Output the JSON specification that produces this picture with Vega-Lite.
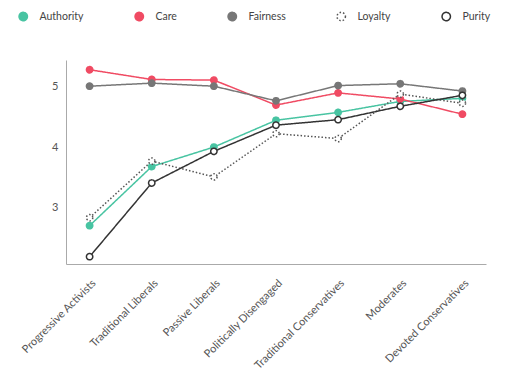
{
  "$schema": "https://vega.github.io/schema/vega-lite/v6.json",
  "width": 420,
  "height": 204,
  "autosize": {"type": "none"},
  "padding": {"left": 66, "top": 60, "right": 26, "bottom": 104},
  "config": {
    "view": {"stroke": null},
    "font": "Lato",
    "axis": {"labelFont": "Lato", "labelColor": "#555", "labelFontSize": 11, "domainColor": "#aaaaaa", "domainWidth": 1, "ticks": false, "grid": false, "title": null},
    "legend": {"orient": "none", "direction": "horizontal", "legendX": -48, "legendY": -49, "title": null, "symbolType": "circle", "symbolSize": 70, "symbolStrokeWidth": 1.5, "labelFontSize": 10.5, "labelColor": "#444", "labelFont": "Lato", "labelOffset": 11, "columnPadding": 48}
  },
  "data": {
    "values": [
      {"group": "Progressive Activists", "series": "Authority", "value": 2.71},
      {"group": "Traditional Liberals", "series": "Authority", "value": 3.68},
      {"group": "Passive Liberals", "series": "Authority", "value": 4.0},
      {"group": "Politically Disengaged", "series": "Authority", "value": 4.44},
      {"group": "Traditional Conservatives", "series": "Authority", "value": 4.57},
      {"group": "Moderates", "series": "Authority", "value": 4.75},
      {"group": "Devoted Conservatives", "series": "Authority", "value": 4.8},
      {"group": "Progressive Activists", "series": "Care", "value": 5.27},
      {"group": "Traditional Liberals", "series": "Care", "value": 5.11},
      {"group": "Passive Liberals", "series": "Care", "value": 5.1},
      {"group": "Politically Disengaged", "series": "Care", "value": 4.69},
      {"group": "Traditional Conservatives", "series": "Care", "value": 4.89},
      {"group": "Moderates", "series": "Care", "value": 4.79},
      {"group": "Devoted Conservatives", "series": "Care", "value": 4.54},
      {"group": "Progressive Activists", "series": "Fairness", "value": 5.0},
      {"group": "Traditional Liberals", "series": "Fairness", "value": 5.05},
      {"group": "Passive Liberals", "series": "Fairness", "value": 5.0},
      {"group": "Politically Disengaged", "series": "Fairness", "value": 4.76},
      {"group": "Traditional Conservatives", "series": "Fairness", "value": 5.01},
      {"group": "Moderates", "series": "Fairness", "value": 5.04},
      {"group": "Devoted Conservatives", "series": "Fairness", "value": 4.92},
      {"group": "Progressive Activists", "series": "Loyalty", "value": 2.84},
      {"group": "Traditional Liberals", "series": "Loyalty", "value": 3.77},
      {"group": "Passive Liberals", "series": "Loyalty", "value": 3.51},
      {"group": "Politically Disengaged", "series": "Loyalty", "value": 4.22},
      {"group": "Traditional Conservatives", "series": "Loyalty", "value": 4.14},
      {"group": "Moderates", "series": "Loyalty", "value": 4.87},
      {"group": "Devoted Conservatives", "series": "Loyalty", "value": 4.72},
      {"group": "Progressive Activists", "series": "Purity", "value": 2.2},
      {"group": "Traditional Liberals", "series": "Purity", "value": 3.41},
      {"group": "Passive Liberals", "series": "Purity", "value": 3.93},
      {"group": "Politically Disengaged", "series": "Purity", "value": 4.36},
      {"group": "Traditional Conservatives", "series": "Purity", "value": 4.45},
      {"group": "Moderates", "series": "Purity", "value": 4.67},
      {"group": "Devoted Conservatives", "series": "Purity", "value": 4.85}
    ]
  },
  "encoding": {
    "x": {
      "field": "group", "type": "nominal", "sort": null,
      "scale": {"type": "point", "padding": 0.38},
      "axis": {"labelAngle": -45, "labelAlign": "right", "labelBaseline": "top", "labelPadding": 13}
    },
    "y": {
      "field": "value", "type": "quantitative",
      "scale": {"domain": [2.08, 5.43], "nice": false, "zero": false},
      "axis": {"values": [3, 4, 5], "labelPadding": 8}
    }
  },
  "layer": [
    {
      "mark": {"type": "line", "strokeWidth": 1.5},
      "encoding": {
        "stroke": {
          "field": "series", "type": "nominal",
          "scale": {"domain": ["Authority", "Care", "Fairness", "Loyalty", "Purity"], "range": ["#48c4a2", "#f04b63", "#777777", "#555555", "#333333"]}
        },
        "strokeDash": {
          "field": "series", "type": "nominal",
          "scale": {"domain": ["Authority", "Care", "Fairness", "Loyalty", "Purity"], "range": [[1, 0], [1, 0], [1, 0], [1.5, 2], [1, 0]]}
        }
      }
    },
    {
      "mark": {"type": "point", "filled": true, "strokeWidth": 1.5, "opacity": 1},
      "encoding": {
        "stroke": {"field": "series", "type": "nominal"},
        "strokeDash": {"field": "series", "type": "nominal"},
        "fill": {
          "field": "series", "type": "nominal",
          "scale": {"domain": ["Authority", "Care", "Fairness", "Loyalty", "Purity"], "range": ["#48c4a2", "#f04b63", "#777777", "#ffffff", "#ffffff"]}
        },
        "size": {"value": 40}
      }
    }
  ]
}
